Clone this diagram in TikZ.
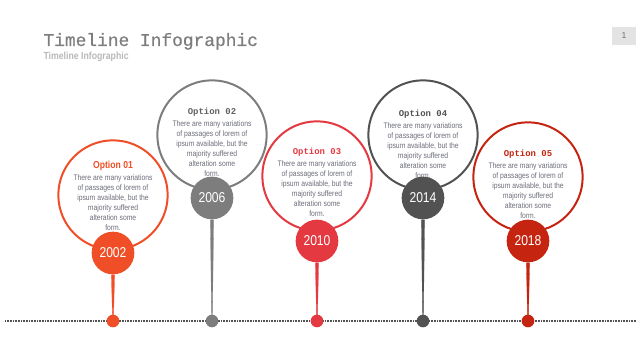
\documentclass[tikz,border=0pt]{standalone}
\usepackage{fontspec}
\setmainfont{Liberation Sans}
\newfontfamily\bodyfont[FakeStretch=0.85]{Liberation Sans}
\newfontfamily\titlefont[FakeBold=0.6]{Liberation Mono}
\newfontfamily\headfont{Liberation Mono}
\usetikzlibrary{positioning}
\tikzset{every picture/.style={line width=0.75pt}}

\definecolor{orangeA}{RGB}{240,78,38}
\definecolor{greyB}{RGB}{125,125,125}
\definecolor{redC}{RGB}{229,57,66}
\definecolor{darkD}{RGB}{82,82,82}
\definecolor{crimsonE}{RGB}{197,36,16}
\definecolor{bodygrey}{RGB}{108,110,122}

\tikzset{
  ring/.style={circle, draw=#1, line width=1.5pt, fill=white, minimum size=82pt, inner sep=0pt},
  yearball/.style={circle, fill=#1, minimum size=32pt, inner sep=0pt, text=white,
    font=\bodyfont\fontsize{10.7}{12}\selectfont},
  pin/.style={circle, fill=#1, minimum size=9.5pt, inner sep=0pt},
  stem/.style={fill=#1, draw=#1, line width=0.2pt, line join=round},
  headsans/.style={inner sep=0.75pt, text=#1, font=\bodyfont\bfseries\fontsize{7.6}{9}\selectfont},
  headmono/.style={inner sep=0.75pt, text=#1, font=\headfont\bfseries\fontsize{6.7}{8}\selectfont},
  blurb/.style={inner sep=0.75pt, align=center, text=bodygrey, font=\bodyfont\fontsize{6}{7.5}\selectfont}
}

\begin{document}
\begin{tikzpicture}[x=0.75pt,y=0.75pt,yscale=-1,xscale=1]
\useasboundingbox (0,0) rectangle (640,360);

% Title
\node (title) [anchor=base west, inner sep=0pt, text=greyB, font=\titlefont\fontsize{13.4}{15}\selectfont] at (43,46) {Timeline Infographic};
\node (subtitle) [anchor=west, inner sep=0pt, text=black!28, font=\bodyfont\bfseries\fontsize{7.7}{9}\selectfont] at (43,57) {Timeline Infographic};
% Page number
\node (pageno) [fill=black!11, minimum width=18pt, minimum height=13.5pt, inner sep=0pt, text=black!55, font=\fontsize{6.5}{7}\selectfont] at (624,36) {1};

%Straight Lines: dotted base line
\coordinate (lineL) at (5,321);
\coordinate (lineR) at (636,321);
\draw [darkD, line width=0.9pt, dash pattern=on 0.6pt off 0.6pt] (lineL) -- (lineR);

%Shape: Circle 2002
\node (ring1) [ring=orangeA] at (113,195) {};
\node (head1) [headsans=orangeA] at (113,166) {Option 01};
\node (text1) [blurb, below=1pt of head1] {There are many variations\\of passages of lorem of\\ipsum available, but the\\majority suffered\\alteration some\\form.};
\node (year1) [yearball=orangeA] at (113,253) {2002};
\node (dot1) [pin=orangeA] at (113,321) {};
\path [stem=orangeA] ([xshift=-1.2pt]year1.south) -- ([xshift=-0.3pt]dot1.center) -- ([xshift=0.3pt]dot1.center) -- ([xshift=1.2pt]year1.south) -- cycle;

%Shape: Circle 2006
\node (ring2) [ring=greyB] at (212,135) {};
\node (head2) [headmono=black!62] at (212,112) {Option 02};
\node (text2) [blurb, below=1pt of head2] {There are many variations\\of passages of lorem of\\ipsum available, but the\\majority suffered\\alteration some\\form.};
\node (year2) [yearball=greyB] at (212,198) {2006};
\node (dot2) [pin=greyB] at (212,321) {};
\path [stem=greyB] ([xshift=-1.2pt]year2.south) -- ([xshift=-0.3pt]dot2.center) -- ([xshift=0.3pt]dot2.center) -- ([xshift=1.2pt]year2.south) -- cycle;

%Shape: Circle 2010
\node (ring3) [ring=redC] at (317,176) {};
\node (head3) [headmono=redC] at (317,152) {Option 03};
\node (text3) [blurb, below=1pt of head3] {There are many variations\\of passages of lorem of\\ipsum available, but the\\majority suffered\\alteration some\\form.};
\node (year3) [yearball=redC] at (317,241) {2010};
\node (dot3) [pin=redC] at (317,321) {};
\path [stem=redC] ([xshift=-1.2pt]year3.south) -- ([xshift=-0.3pt]dot3.center) -- ([xshift=0.3pt]dot3.center) -- ([xshift=1.2pt]year3.south) -- cycle;

%Shape: Circle 2014
\node (ring4) [ring=darkD] at (423,135) {};
\node (head4) [headmono=darkD] at (423,114) {Option 04};
\node (text4) [blurb, below=1pt of head4] {There are many variations\\of passages of lorem of\\ipsum available, but the\\majority suffered\\alteration some\\form.};
\node (year4) [yearball=darkD] at (423,198) {2014};
\node (dot4) [pin=darkD] at (423,321) {};
\path [stem=darkD] ([xshift=-1.2pt]year4.south) -- ([xshift=-0.3pt]dot4.center) -- ([xshift=0.3pt]dot4.center) -- ([xshift=1.2pt]year4.south) -- cycle;

%Shape: Circle 2018
\node (ring5) [ring=crimsonE] at (528,177) {};
\node (head5) [headmono=crimsonE] at (528,154) {Option 05};
\node (text5) [blurb, below=1pt of head5] {There are many variations\\of passages of lorem of\\ipsum available, but the\\majority suffered\\alteration some\\form.};
\node (year5) [yearball=crimsonE] at (528,241) {2018};
\node (dot5) [pin=crimsonE] at (528,321) {};
\path [stem=crimsonE] ([xshift=-1.2pt]year5.south) -- ([xshift=-0.3pt]dot5.center) -- ([xshift=0.3pt]dot5.center) -- ([xshift=1.2pt]year5.south) -- cycle;

\end{tikzpicture}
\end{document}
